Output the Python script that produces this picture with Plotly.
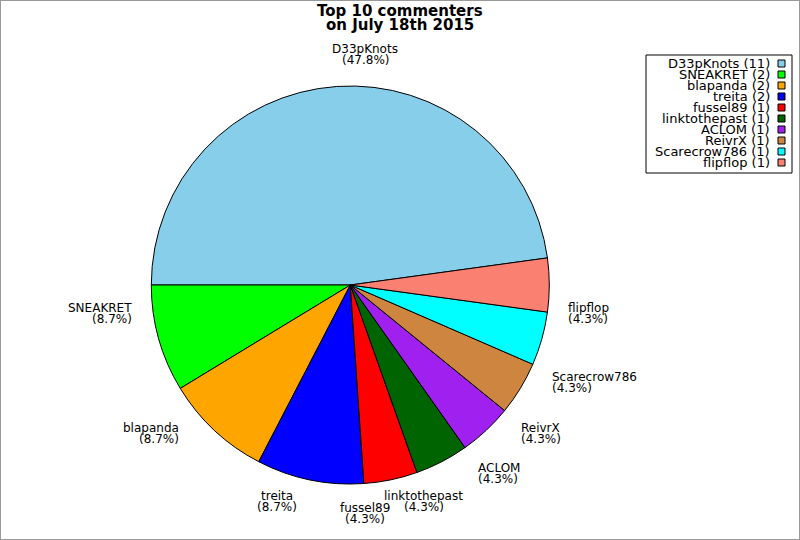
import math
import plotly.graph_objects as go

names = ["D33pKnots", "SNEAKRET", "blapanda", "treita", "fussel89",
         "linktothepast", "ACLOM", "ReivrX", "Scarecrow786", "flipflop"]
counts = [11, 2, 2, 2, 1, 1, 1, 1, 1, 1]
colors = ["#87CEEB", "#00FF00", "#FFA500", "#0000FF", "#FF0000",
          "#006400", "#A020F0", "#CD853F", "#00FFFF", "#FA8072"]
title_lines = ["Top 10 commenters", "on July 18th 2015"]

W, H = 800, 540
CX, CY, R = 350.3, 285.0, 199.0
FONT = "DejaVu Sans"


def px(x):
    return x / W


def py(y):
    return 1 - y / H


fig = go.Figure(go.Pie(
    labels=names, values=counts, sort=False,
    direction="counterclockwise", rotation=-90,
    marker=dict(colors=colors, line=dict(color="black", width=1)),
    textinfo="none", hoverinfo="skip", showlegend=False,
    domain=dict(x=[px(CX - R), px(CX + R)], y=[py(CY + R), py(CY - R)]),
))

annotations = []
shapes = []

# slice labels
total = sum(counts)
cum = 0
for name, v in zip(names, counts):
    mid = (cum + v / 2) / total * 2 * math.pi
    cum += v
    c, s = math.cos(mid), math.sin(mid)
    ax = CX + 1.1 * R * c
    ay = CY - 1.1 * R * s
    if c > 0.5:
        xa = "left"
    elif c < -0.5:
        xa = "right"
    else:
        xa = "center"
    if s > 0.3:
        ys = [ay - 16.5, ay - 5.5]
    elif s < -0.3:
        ys = [ay + 5.5, ay + 16.5]
    else:
        ys = [ay - 5.5, ay + 5.5]
    ys = [y - 1 for y in ys]
    for txt, yy in zip([name, f"({100 * v / total:.1f}%)"], ys):
        annotations.append(dict(
            x=px(ax), y=py(yy), xref="paper", yref="paper",
            text=txt, showarrow=False, xanchor=xa, yanchor="middle",
            borderpad=0, font=dict(family=FONT, size=12, color="black")))

# title
for txt, yy in zip(title_lines, [11.5, 24.5]):
    annotations.append(dict(
        x=px(400), y=py(yy), xref="paper", yref="paper",
        text=f"<b>{txt}</b>", showarrow=False, xanchor="center",
        yanchor="middle", borderpad=0,
        font=dict(family=FONT, size=15, color="black")))

# legend
shapes.append(dict(type="rect", xref="paper", yref="paper",
                   x0=px(646), x1=px(792), y0=py(173), y1=py(55),
                   line=dict(color="black", width=1), fillcolor="white",
                   layer="below"))
for i, (name, v, col) in enumerate(zip(names, counts, colors)):
    cy = 63.5 + 11 * i
    annotations.append(dict(
        x=px(771), y=py(cy), xref="paper", yref="paper",
        text=f"{name} ({v})", showarrow=False, xanchor="right",
        yanchor="middle", borderpad=0,
        font=dict(family=FONT, size=13, color="black")))
    shapes.append(dict(type="rect", xref="paper", yref="paper",
                       x0=px(778), x1=px(785), y0=py(cy + 3.5), y1=py(cy - 3.5),
                       line=dict(color="black", width=1), fillcolor=col))

# outer border
shapes.append(dict(type="rect", xref="paper", yref="paper",
                   x0=0, x1=1, y0=0, y1=1,
                   line=dict(color="#999999", width=2)))

fig.update_layout(
    width=W, height=H,
    margin=dict(l=0, r=0, t=0, b=0),
    paper_bgcolor="white", plot_bgcolor="white",
    annotations=annotations, shapes=shapes,
    showlegend=False,
)

fig.write_html("out.html",
               config={"displayModeBar": False},
               post_script="document.body.style.margin='0px';"
                           "document.body.style.overflow='hidden';")
